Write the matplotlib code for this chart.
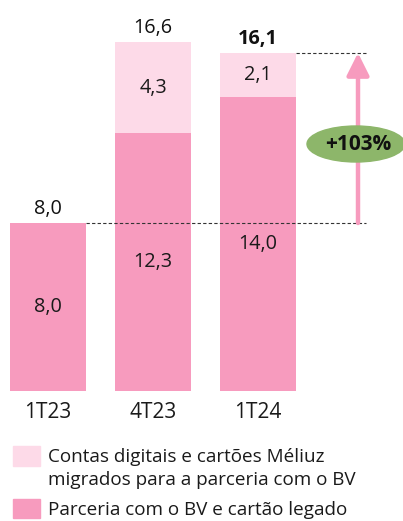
import matplotlib
matplotlib.use("Agg")
import matplotlib.pyplot as plt
from matplotlib.patches import Ellipse, Rectangle

categories = ["1T23", "4T23", "1T24"]
legado = [8.0, 12.3, 14.0]
migrados = [0.0, 4.3, 2.1]
totals = [8.0, 16.6, 16.1]
growth_label = "+103%"
legend_labels = ["Contas digitais e cartões Méliuz\nmigrados para a parceria com o BV",
                 "Parceria com o BV e cartão legado"]

DARK = "#F79BBE"
LIGHT = "#FDDAE8"
GREEN = "#8DB66A"
TXT = "#1a1a1a"
FONT = "Open Sans"
plt.rcParams["font.family"] = [FONT, "DejaVu Sans"]

W, H = 403, 521
fig = plt.figure(figsize=(W / 100, H / 100), dpi=100)
base_px = 391
ppu = 21.0
ax = fig.add_axes([0, (H - base_px) / H, 1, base_px / H])
ax.set_ylim(0, base_px / ppu)
ax.set_xlim(-48 / 105, (403 - 48) / 105)
x = list(range(len(categories)))
bw = 75.5 / 105

ax.bar(x, legado, width=bw, color=DARK, zorder=2)
ax.bar(x, migrados, width=bw, bottom=legado, color=LIGHT, zorder=2)

fs = 14.3
fmt = lambda v: f"{v:.1f}".replace(".", ",")
for i in x:
    ax.text(i, legado[i] / 2, fmt(legado[i]), ha="center", va="center", fontsize=fs, color=TXT)
    if migrados[i] > 0:
        ax.text(i, legado[i] + migrados[i] / 2, fmt(migrados[i]), ha="center", va="center", fontsize=fs, color=TXT)
    ax.text(i, totals[i] + 9 / ppu, fmt(totals[i]), ha="center", va="baseline", fontsize=fs,
            color="#111111", fontweight="bold" if i == 2 else "normal")

# dashed reference lines + growth arrow
xa = 2 + bw / 2
xarrow = (358 - 48) / 105
xend = (366 - 48) / 105
ax.plot([bw / 2, xend], [totals[0], totals[0]], ls=(0, (3, 2)), color="#333333", lw=0.8, zorder=3)
ax.plot([xa, xend], [totals[2], totals[2]], ls=(0, (3, 2)), color="#333333", lw=0.8, zorder=3)
ax.annotate("", xy=(xarrow, totals[2]), xytext=(xarrow, totals[0]),
            arrowprops=dict(arrowstyle="-|>,head_length=0.9,head_width=0.45", color=DARK, lw=3.2, shrinkA=0, shrinkB=0,
                            mutation_scale=15), zorder=3)
ex = (356 - 48) / 105
ey = (base_px - 144) / ppu
ax.add_patch(Ellipse((ex, ey), 98 / 105, 36 / ppu, color=GREEN, zorder=4, clip_on=False))
ax.text((358 - 48) / 105, ey, growth_label, ha="center", va="center", fontsize=15, fontweight="bold",
        color="#111111", zorder=5)

ax.set_xticks(x)
ax.set_xticklabels(categories, fontsize=15, color=TXT)
ax.tick_params(axis="x", length=0, pad=8)
ax.set_yticks([])
for s in ax.spines.values():
    s.set_visible(False)

# manual legend (pixel coordinates converted to figure fraction)
def fx(px):
    return px / W

def fy(py):
    return 1 - py / H

for (y0, y1), col in zip([(446, 466), (499, 518)], [LIGHT, DARK]):
    fig.patches.append(Rectangle((fx(13), fy(y1)), fx(40) - fx(13), (y1 - y0) / H, color=col,
                                 transform=fig.transFigure, figure=fig))
lfs = 13.6
fig.text(fx(48), fy(457), legend_labels[0].split("\n")[0], ha="left", va="center", fontsize=lfs, color=TXT)
fig.text(fx(48), fy(480), legend_labels[0].split("\n")[1], ha="left", va="center", fontsize=lfs, color=TXT)
fig.text(fx(48), fy(510), legend_labels[1], ha="left", va="center", fontsize=lfs, color=TXT)

fig.savefig("out.png", dpi=100)
